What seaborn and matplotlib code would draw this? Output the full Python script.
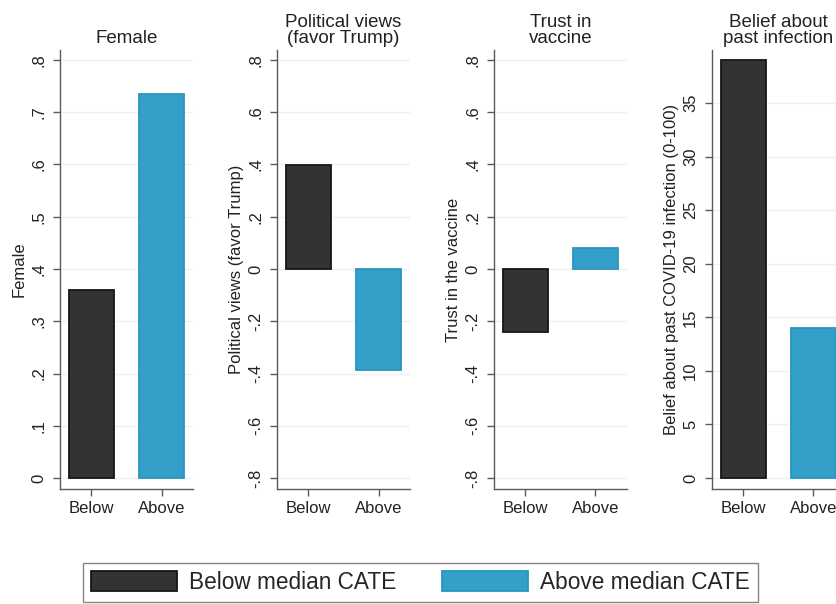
import numpy as np
import pandas as pd
import seaborn as sns
import matplotlib.pyplot as plt
from matplotlib.patches import Patch
from matplotlib.ticker import FuncFormatter

# Data
groups = ["Below", "Above"]
female = [0.36, 0.735]
political = [0.398, -0.387]
trust = [-0.241, 0.080]
infection = [39.0, 14.0]

titles = ["Female", "Political views\n(favor Trump)", "Trust in\nvaccine", "Belief about\npast infection"]
ylabels = ["Female", "Political views (favor Trump)", "Trust in the vaccine",
           "Belief about past COVID-19 infection (0-100)"]
legend_labels = ["Below median CATE", "Above median CATE"]

share_ticks = [0, .1, .2, .3, .4, .5, .6, .7, .8]
sym_ticks = [-.8, -.6, -.4, -.2, 0, .2, .4, .6, .8]
pct_ticks = [0, 5, 10, 15, 20, 25, 30, 35]

dark = "#333333"
blue = "#34a0c9"
edges = ["#161616", "#2a95bf"]

sns.set_style("ticks")
plt.rcParams["font.family"] = ["Liberation Sans", "DejaVu Sans"]


def stata_fmt(v, pos=None):
    if abs(v) < 1e-9:
        return "0"
    if float(v).is_integer():
        return str(int(v))
    s = ("%g" % v).replace("0.", ".")
    return s


panels = [
    (female, share_ticks, (-0.021, 0.819)),
    (political, sym_ticks, (-0.842, 0.838)),
    (trust, sym_ticks, (-0.842, 0.838)),
    (infection, pct_ticks, (-1.03, 39.95)),
]

W, H = 837, 604
fig = plt.figure(figsize=(W / 100, H / 100), dpi=100)

lefts = [60, 277, 494, 712]
ax_w, ax_top, ax_bot = 133, 50, 489

for i, (vals, ticks, ylim) in enumerate(panels):
    ax = fig.add_axes([lefts[i] / W, 1 - ax_bot / H, ax_w / W, (ax_bot - ax_top) / H])
    df = pd.DataFrame({"group": groups, "value": vals})
    sns.barplot(data=df, x="group", y="value", hue="group", palette=[dark, blue],
                width=0.64, legend=False, ax=ax, saturation=1)
    for p, ec in zip(ax.patches, edges):
        p.set_edgecolor(ec)
        p.set_linewidth(1.3)
        p.set_zorder(3)
    ax.set_xlim(-0.45, 1.45)
    ax.set_ylim(*ylim)
    ax.set_yticks(ticks)
    ax.yaxis.set_major_formatter(FuncFormatter(stata_fmt))
    ax.grid(axis="y", color="#eaf2f4", linewidth=1, zorder=0)
    ax.set_axisbelow(True)
    for side in ["top", "right"]:
        ax.spines[side].set_visible(False)
    for side in ["left", "bottom"]:
        ax.spines[side].set_color("#5a5a5a")
        ax.spines[side].set_linewidth(1)
    ax.tick_params(axis="both", colors="#5a5a5a", length=5, width=1, labelcolor="#222222",
                   labelsize=12)
    ax.tick_params(axis="y", pad=5)
    for lab in ax.get_yticklabels():
        lab.set_rotation(90)
        lab.set_va("center")
    ax.set_xlabel("")
    ax.set_ylabel(ylabels[i], fontsize=12, color="#222222", labelpad=3)
    ax.set_title(titles[i], fontsize=13.5, color="#222222", pad=5, linespacing=0.95)

handles = [Patch(facecolor=dark, edgecolor=edges[0], linewidth=1.3),
           Patch(facecolor=blue, edgecolor=edges[1], linewidth=1.3)]
leg = fig.legend(handles, legend_labels, loc="upper left",
                 bbox_to_anchor=(83 / W, 1 - 563 / H), ncol=2, fontsize=16.3,
                 frameon=True, fancybox=False, handlelength=3.8, handleheight=1.0,
                 handletextpad=0.55, columnspacing=2.0, borderpad=0.35,
                 borderaxespad=0)
leg.get_frame().set_edgecolor("#666666")
leg.get_frame().set_linewidth(1)

fig.savefig("out.png", dpi=100)
